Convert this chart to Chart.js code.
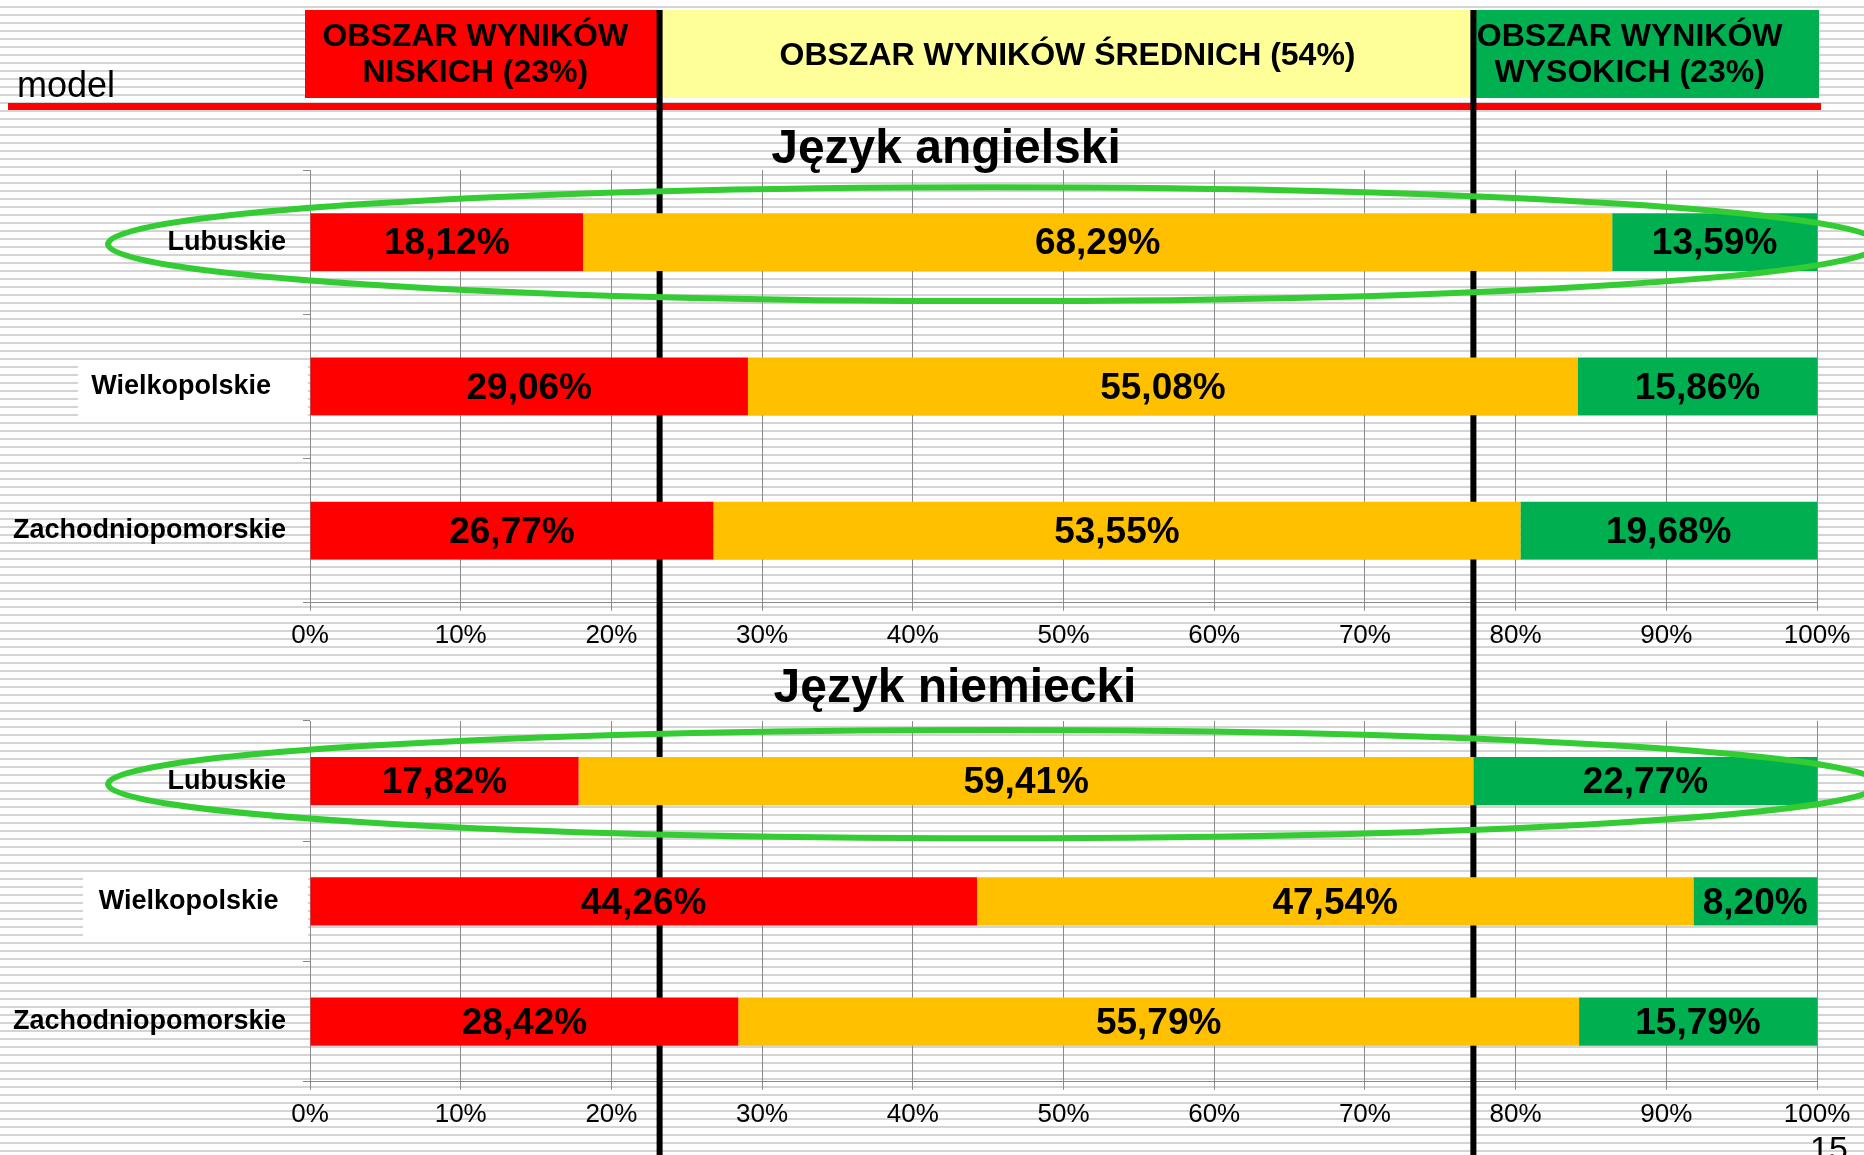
<!DOCTYPE html>
<html><head><meta charset="utf-8">
<script src="https://cdn.jsdelivr.net/npm/chart.js@4.4.1/dist/chart.umd.min.js"></script>
<style>
html,body{margin:0;padding:0;width:1864px;height:1155px;overflow:hidden;}
body{position:relative;background:repeating-linear-gradient(to bottom,#ffffff 0px,#ffffff 6px,#d4d4d4 6px,#d4d4d4 8px);}
.box{position:absolute;left:0;width:1864px;}
</style></head><body>
<div class="box" style="top:0;height:660px"><canvas id="c1"></canvas></div>
<div class="box" style="top:660px;height:495px"><canvas id="c2"></canvas></div>
<script>
// ---- data ----
const categories = ['Lubuskie', 'Wielkopolskie', 'Zachodniopomorskie'];
const seriesNames = ['wyniki niskie', 'wyniki średnie', 'wyniki wysokie'];
const seriesColors = ['#ff0000', '#ffc000', '#00b050'];
const titles = ['Język angielski', 'Język niemiecki'];

const angNiskie  = [18.12, 29.06, 26.77];
const angSrednie = [68.29, 55.08, 53.55];
const angWysokie = [13.59, 15.86, 19.68];

const niemNiskie  = [17.82, 44.26, 28.42];
const niemSrednie = [59.41, 47.54, 55.79];
const niemWysokie = [22.77, 8.20, 15.79];

const thresholds = [23, 77];
const headerBounds = [0, 23, 77, 100];
const headerLabels = [['OBSZAR WYNIKÓW', 'NISKICH (23%)'], ['OBSZAR WYNIKÓW ŚREDNICH (54%)'], ['OBSZAR WYNIKÓW', 'WYSOKICH (23%)']];
const headerColors = ['#ff0000', '#ffff99', '#00b050'];
const modelLabel = 'model';
const pageNumber = '15';
const highlightCategory = 0;   // Lubuskie circled
const whiteLabelCategory = 1;  // Wielkopolskie label on white

const FONT = '"Liberation Sans", Arial, Helvetica, sans-serif';
function fmt(v) { return v.toFixed(2).replace('.', ',') + '%'; }

const decor = {
  id: 'decor',
  beforeDraw(chart, args, o) {
    const ctx = chart.ctx, y = chart.scales.y;
    const cy = y.getPixelForValue(whiteLabelCategory);
    ctx.save();
    ctx.fillStyle = '#ffffff';
    ctx.fillRect(o.wbLeft, cy + o.wbTop, y.right - 2 - o.wbLeft, o.wbBottom - o.wbTop);
    ctx.restore();
  },
  beforeDatasetsDraw(chart, args, o) {
    const ctx = chart.ctx, x = chart.scales.x;
    ctx.save();
    if (o.header) {
      const shifts = [-8, 4, -14];
      for (let i = 0; i < 3; i++) {
        const x0 = x.getPixelForValue(headerBounds[i]);
        const x1 = x.getPixelForValue(headerBounds[i + 1]);
        ctx.fillStyle = headerColors[i];
        const l = i === 0 ? x0 - 5 : x0 + 3;
        const r = i === 2 ? x1 + 2 : x1 + 3;
        ctx.fillRect(l, 10, r - l, 88);
        ctx.fillStyle = '#000';
        ctx.font = 'bold 32px ' + FONT;
        ctx.textAlign = 'center';
        ctx.textBaseline = 'middle';
        const cx = (x0 + x1) / 2 + shifts[i];
        const lines = headerLabels[i];
        if (lines.length === 1) ctx.fillText(lines[0], cx, 56);
        else { ctx.fillText(lines[0], cx, 37); ctx.fillText(lines[1], cx, 73); }
      }
      ctx.fillStyle = '#ff0000';
      ctx.fillRect(8, 103, x.getPixelForValue(100) + 4 - 8, 7);
      ctx.fillStyle = '#000';
      ctx.font = '36px ' + FONT;
      ctx.textAlign = 'left';
      ctx.textBaseline = 'alphabetic';
      ctx.fillText(modelLabel, 17, 97);
    }
    ctx.fillStyle = '#000';
    thresholds.forEach(t => {
      const px = x.getPixelForValue(t);
      ctx.fillRect(px, o.lineTop, 6, chart.height - o.lineTop);
    });
    // chart title
    ctx.fillStyle = '#000';
    ctx.font = 'bold 48px ' + FONT;
    ctx.textAlign = 'center';
    ctx.textBaseline = 'alphabetic';
    ctx.fillText(o.title, o.titleX, o.titleY);
    ctx.restore();
  },
  afterDatasetsDraw(chart) {
    const ctx = chart.ctx;
    ctx.save();
    ctx.fillStyle = '#000';
    ctx.font = 'bold 37px ' + FONT;
    ctx.textAlign = 'center';
    ctx.textBaseline = 'middle';
    chart.data.datasets.forEach((ds, di) => {
      const meta = chart.getDatasetMeta(di);
      meta.data.forEach((el, i) => {
        ctx.fillText(fmt(ds.data[i]), (el.x + el.base) / 2, el.y + 2);
      });
    });
    ctx.restore();
  },
  afterDraw(chart, args, o) {
    const ctx = chart.ctx, x = chart.scales.x, y = chart.scales.y;
    const cy = y.getPixelForValue(highlightCategory);
    const band = y.getPixelForValue(1) - y.getPixelForValue(0);
    const cx = x.getPixelForValue(o.ellCx);
    const rx = x.getPixelForValue(o.ellCx + o.ellRx) - cx;
    ctx.save();
    ctx.strokeStyle = '#33cc33';
    ctx.lineWidth = 6;
    ctx.beginPath();
    ctx.ellipse(cx, cy + o.ellDy, rx, band * o.ellRy, 0, 0, Math.PI * 2);
    ctx.stroke();
    if (o.page) {
      ctx.fillStyle = '#000';
      ctx.font = '34px ' + FONT;
      ctx.textAlign = 'left';
      ctx.textBaseline = 'alphabetic';
      ctx.fillText(pageNumber, 1810, chart.height + 5);
    }
    ctx.restore();
  }
};

function makeChart(id, vals, opt) {
  return new Chart(document.getElementById(id), {
    type: 'bar',
    data: {
      labels: categories,
      datasets: vals.map((v, i) => ({
        label: seriesNames[i], data: v, backgroundColor: seriesColors[i],
        borderWidth: 0, barPercentage: 0.4, categoryPercentage: 1
      }))
    },
    plugins: [decor],
    options: {
      indexAxis: 'y',
      responsive: true, maintainAspectRatio: false, animation: false, devicePixelRatio: 1,
      layout: { padding: { left: 0, right: 47, top: opt.padT, bottom: opt.padB } },
      plugins: {
        legend: { display: false }, tooltip: { enabled: false }, title: { display: false },
        decor: opt.decor
      },
      scales: {
        x: {
          stacked: true, min: 0, max: 100,
          ticks: { stepSize: 10, callback: v => v + '%', color: '#000', padding: 9,
            font: { family: FONT, size: 26 }, maxRotation: 0, autoSkip: false },
          grid: { color: '#8a8a8a', tickLength: 8, lineWidth: 1 },
          border: { color: '#8a8a8a', width: 1 }
        },
        y: {
          stacked: true,
          ticks: { color: '#000', padding: 17, font: { family: FONT, size: 27, weight: 'bold' },
            callback: function (v, i) { return categories[i] + (i === whiteLabelCategory ? opt.labelPad : ''); } },
          grid: { drawOnChartArea: false, tickLength: 7, color: '#8a8a8a' },
          border: { color: '#8a8a8a', width: 1 },
          afterFit(s) { s.width = 310; }
        }
      }
    }
  });
}

makeChart('c1', [angNiskie, angSrednie, angWysokie],
  { padT: 170, padB: 0, labelPad: '  ',
    decor: { header: true, lineTop: 10, title: titles[0], titleX: 946, titleY: 163,
      wbLeft: 78, wbTop: -23, wbBottom: 33,
      ellCx: 45.4, ellRx: 58.8, ellRy: 0.395, ellDy: 2, page: false } });
makeChart('c2', [niemNiskie, niemSrednie, niemWysokie],
  { padT: 61, padB: 16, labelPad: ' ',
    decor: { header: false, lineTop: 0, title: titles[1], titleX: 955, titleY: 42,
      wbLeft: 83, wbTop: -28, wbBottom: 36,
      ellCx: 45.4, ellRx: 58.8, ellRy: 0.45, ellDy: 3, page: true } });
</script>
</body></html>
